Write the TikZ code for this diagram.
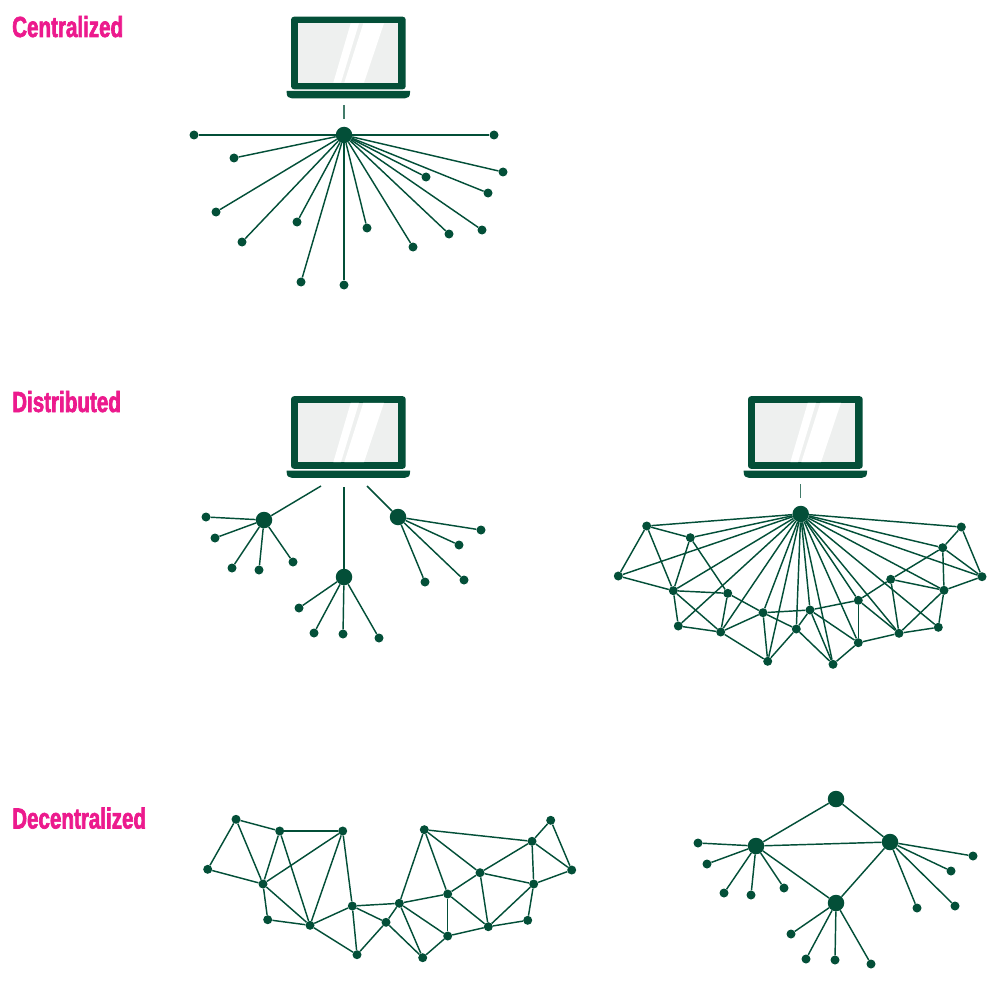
\documentclass[tikz,border=0pt]{standalone}
\usepackage{fontspec}
\setmainfont{Liberation Sans}
\newfontfamily\headfont[FakeStretch=0.71,FakeBold=2.2]{Liberation Sans Bold}
\usetikzlibrary{positioning}
\definecolor{netgreen}{HTML}{034F38}
\definecolor{headpink}{HTML}{EC1A8D}
\definecolor{screengray}{HTML}{EEF0EF}
\tikzset{
    dot/.style={circle, fill=netgreen, inner sep=0pt, minimum size=9pt},
    hub/.style={circle, fill=netgreen, inner sep=0pt, minimum size=16.5pt},
    link/.style={draw=netgreen, line width=1.45pt},
    stub/.style={draw=netgreen!75, line width=1.3pt},
    heading/.style={anchor=base west, inner sep=0pt, text=headpink, font=\headfont\fontsize{29}{29}\selectfont},
    laptop/.pic={
        \fill[netgreen, rounded corners=3pt] (0,0) rectangle (114.7,72.6);
        \fill[screengray] (7.3,6.6) rectangle (107.3,66);
        \fill[white] (59.7,6.6) -- (68,6.6) -- (50,66) -- (42.3,66) -- cycle;
        \fill[white] (72.3,6.6) -- (93,6.6) -- (73,66) -- (53.3,66) -- cycle;
        \fill[netgreen] (-4.3,74.3) -- (119,74.3) -- (119,76) .. controls (119,80) and (117,81.6) .. (114,81.6)
            -- (0.7,81.6) .. controls (-2.3,81.6) and (-4.3,80) .. (-4.3,76) -- cycle;
    },
}

\begin{document}
\begin{tikzpicture}[x=1pt, y=-1pt]
    \useasboundingbox (0,0) rectangle (1000,987);

    \node[heading] (head-cen) at (12,37) {Centralized};
    \node[heading] (head-dis) at (12,412) {Distributed};
    \node[heading] (head-dec) at (12,828.5) {Decentralized};

    \pic at (291,16.7) {laptop};
    \pic at (291,396.2) {laptop};
    \pic at (748,396.2) {laptop};

    % centralized
    \coordinate (cen-top) at (344,105);
    \coordinate (cen-bot) at (344,119);
    \draw[stub] (cen-top) -- (cen-bot);
    \node[hub] (cen) at (344,135) {};
    \foreach \n/\x/\y in {1/194/135, 2/234/158, 3/216/212, 4/242/242, 5/297/222, 6/301/282, 7/344/285,
        8/367/228, 9/413/247, 10/449/234, 11/482/230, 12/426/177, 13/488/193, 14/503/172, 15/494/135} {
        \node[dot] (cen\n) at (\x,\y) {};
        \draw[link] (cen) -- (cen\n);
    }

    % distributed, three hubs
    \coordinate (dis-a) at (321,486);
    \coordinate (dis-b) at (344,487);
    \coordinate (dis-c) at (367,486);
    \node[hub] (disa) at (264,520) {};
    \node[hub] (disb) at (344,577) {};
    \node[hub] (disc) at (398,517) {};
    \draw[link] (dis-a) -- (disa);
    \draw[link] (dis-b) -- (disb);
    \draw[link] (dis-c) -- (disc);
    \foreach \h/\n/\x/\y in {disa/1/206/517, disa/2/215/538, disa/3/232/568, disa/4/259/570, disa/5/293/562,
        disb/1/299/608, disb/2/314/633, disb/3/343/634, disb/4/379/638,
        disc/1/481/530, disc/2/459/545, disc/3/464/580, disc/4/425/582} {
        \node[dot] (\h\n) at (\x,\y) {};
        \draw[link] (\h) -- (\h\n);
    }

    % distributed, mesh under one hub
    \coordinate (msh-top) at (800.5,484);
    \coordinate (msh-bot) at (800.5,498);
    \draw[stub] (msh-top) -- (msh-bot);
    \node[hub] (msh) at (800.7,514) {};
    \foreach \n/\x/\y in {a/646.7/526, b/690.3/537.7, c/618.3/576, d/673.3/590.7, e/727.7/593.3, f/678.3/626,
        g/720.7/632, h/763/612.7, i/767.7/661.3, j/796.3/629, k/810/610, l/833/664.3, m/858.3/600.3,
        n/858.3/642.7, o/899/633.3, p/890.7/579.3, q/944/590.3, r/938.3/627.3, s/942.7/547.7,
        t/961.3/527, u/982/576.7}
        \node[dot] (msh\n) at (\x,\y) {};
    \foreach \n in {a,b,c,d,f,g,h,i,j,k,l,n,m,o,r,q,u,s,t}
        \draw[link] (msh) -- (msh\n);
    \foreach \a/\b in {a/b, a/c, a/d, c/d, b/d, b/e, d/e, d/f, d/g, f/g, e/g, g/h, g/i, h/i, e/h, h/j, h/k,
        i/j, j/k, j/l, k/l, k/n, l/n, n/m, k/m, m/o, n/o, o/r, o/p, o/q, m/p, p/s, p/q, q/r, q/s, q/u,
        s/t, s/u, t/u}
        \draw[link] (msh\a) -- (msh\b);

    % decentralized mesh
    \foreach \n/\x/\y in {a/236/819.3, b/279.7/831, c/342.7/831, d/207.7/869.3, e/263/884, f/267.7/919.7,
        g/310/925.3, h/352.3/906, i/357/954.7, j/386/922.3, k/399.3/903.3, l/422.7/957.7, m/447.7/894,
        n/447.7/936, o/488.3/926.7, p/480/872.7, q/533.7/884, r/527.7/920.3, s/532/841.3, t/550.7/820.3,
        u/571.7/870, v/424.3/829.7}
        \node[dot] (dec\n) at (\x,\y) {};
    \foreach \a/\b in {a/b, a/d, a/e, d/e, b/e, b/c, b/g, c/e, c/g, c/h, e/f, e/g, f/g, g/h, g/i, h/i, h/j,
        h/k, i/j, j/k, j/l, k/l, k/n, k/v, k/m, l/n, n/m, n/o, m/o, m/p, m/v, v/p, v/s, p/s, p/q, p/o,
        o/q, o/r, q/r, q/s, q/u, s/t, s/u, t/u}
        \draw[link] (dec\a) -- (dec\b);

    % decentralized, four hubs
    \node[hub] (tree) at (836,799) {};
    \node[hub] (treea) at (756,846) {};
    \node[hub] (treeb) at (890,842) {};
    \node[hub] (treec) at (836,903) {};
    \draw[link] (tree) -- (treea);
    \draw[link] (tree) -- (treeb);
    \draw[link] (treea) -- (treeb);
    \draw[link] (treeb) -- (treec);
    \draw[link] (treea) -- (treec);
    \foreach \h/\n/\x/\y in {treea/1/698/843, treea/2/707/864, treea/3/724/893, treea/4/751/895, treea/5/784/888,
        treeb/1/973/856, treeb/2/951/871, treeb/3/955/906, treeb/4/917/908,
        treec/1/791/934, treec/2/806/959, treec/3/835/960, treec/4/871/964} {
        \node[dot] (\h\n) at (\x,\y) {};
        \draw[link] (\h) -- (\h\n);
    }
\end{tikzpicture}
\end{document}
